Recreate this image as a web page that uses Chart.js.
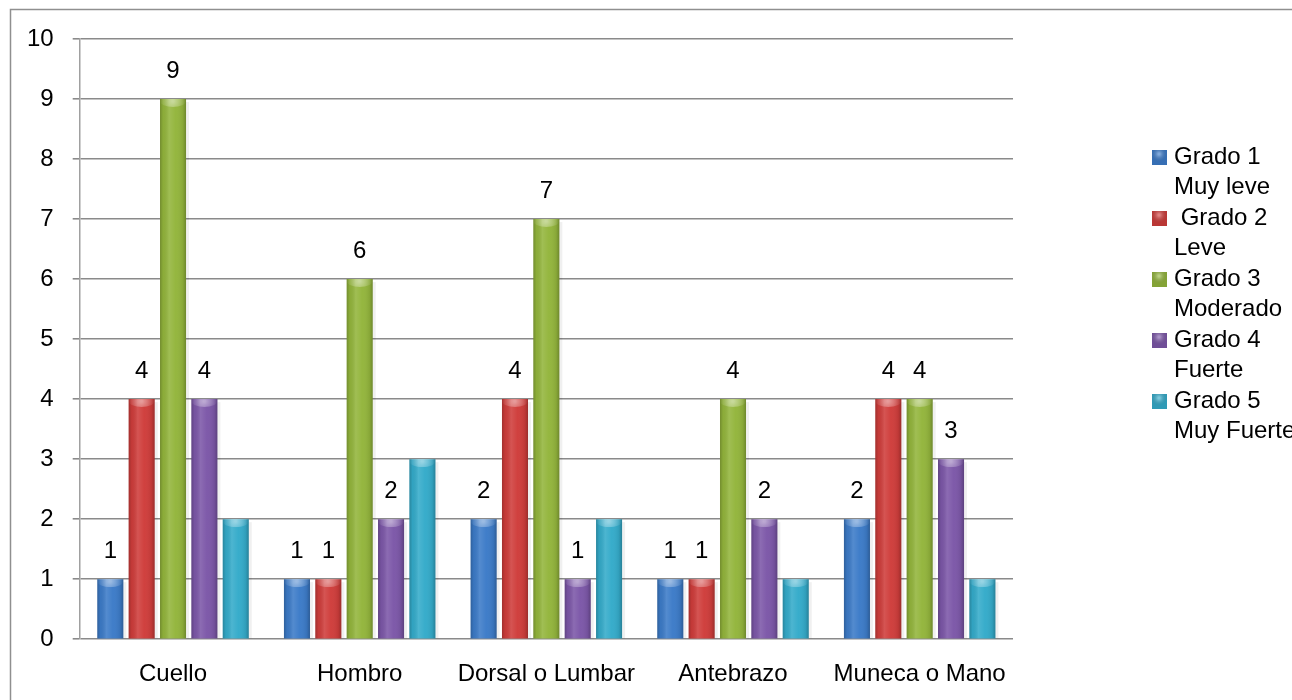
<!DOCTYPE html>
<html>
<head>
<meta charset="utf-8">
<script src="https://cdn.jsdelivr.net/npm/chart.js@4/dist/chart.umd.min.js"></script>
<style>
  html, body { margin: 0; padding: 0; background: #fff; }
  #wrap { width: 1292px; height: 700px; position: relative; }
</style>
</head>
<body>
<div id="wrap"><canvas id="c" width="1292" height="700"></canvas></div>
<script>
const categories = ['Cuello', 'Hombro', 'Dorsal o Lumbar', 'Antebrazo', 'Muneca o Mano'];
const grado1 = [1, 1, 2, 1, 2];
const grado2 = [4, 1, 4, 1, 4];
const grado3 = [9, 6, 7, 4, 4];
const grado4 = [4, 2, 1, 2, 3];
const grado5 = [2, 3, 2, 1, 1];
const seriesNames = ['Grado 1', 'Grado 2', 'Grado 3', 'Grado 4', 'Grado 5'];
const legendLines = [['Grado 1', 'Muy leve'], [' Grado 2', 'Leve'], ['Grado 3', 'Moderado'], ['Grado 4', 'Fuerte'], ['Grado 5', 'Muy Fuerte']];
const labeledSeries = [true, true, true, true, false];
const yMin = 0, yMax = 10, yStep = 1;

const colors = ['#3c7bc8', '#cf3d3b', '#93b53c', '#7c57a8', '#34abca'];
const FONT = '"Liberation Sans", Arial, sans-serif';

const borderPlugin = {
  id: 'outerBorder',
  beforeDraw(chart) {
    const ctx = chart.ctx;
    ctx.save();
    ctx.strokeStyle = '#8f8f8f';
    ctx.lineWidth = 1.5;
    ctx.strokeRect(10.5, 9.5, 1400, 800);
    ctx.restore();
  }
};

const shadePlugin = {
  id: 'shade',
  afterDatasetsDraw(chart) {
    const ctx = chart.ctx;
    chart.data.datasets.forEach((ds, i) => {
      const meta = chart.getDatasetMeta(i);
      meta.data.forEach(bar => {
        const w = bar.width, left = bar.x - w / 2, top = bar.y, bottom = bar.base;
        const g = ctx.createLinearGradient(left, 0, left + w, 0);
        g.addColorStop(0, 'rgba(0,0,0,0.22)');
        g.addColorStop(0.12, 'rgba(0,0,0,0.05)');
        g.addColorStop(0.35, 'rgba(255,255,255,0.12)');
        g.addColorStop(0.6, 'rgba(255,255,255,0.02)');
        g.addColorStop(0.88, 'rgba(0,0,0,0.08)');
        g.addColorStop(1, 'rgba(0,0,0,0.25)');
        ctx.save();
        ctx.fillStyle = 'rgba(0,0,0,0.06)';
        ctx.fillRect(left + w, top + 3, 3, bottom - top - 3);
        ctx.fillStyle = g;
        ctx.fillRect(left, top, w, bottom - top);
        const cg = ctx.createRadialGradient(bar.x, top + 2, 1, bar.x, top + 2, w / 2);
        cg.addColorStop(0, 'rgba(255,255,255,0.45)');
        cg.addColorStop(1, 'rgba(255,255,255,0)');
        ctx.fillStyle = cg;
        ctx.beginPath();
        ctx.ellipse(bar.x, top + 2, w / 2, 6, 0, 0, Math.PI * 2);
        ctx.save();
        ctx.clip();
        ctx.fillRect(left, top, w, 8);
        ctx.restore();
        ctx.restore();
      });
    });
  }
};

const valueLabelPlugin = {
  id: 'valueLabels',
  afterDatasetsDraw(chart) {
    const ctx = chart.ctx;
    ctx.save();
    ctx.font = '24px ' + FONT;
    ctx.fillStyle = '#000';
    ctx.textAlign = 'center';
    ctx.textBaseline = 'alphabetic';
    chart.data.datasets.forEach((ds, i) => {
      if (!labeledSeries[i]) return;
      const meta = chart.getDatasetMeta(i);
      meta.data.forEach((bar, j) => {
        ctx.fillText(String(ds.data[j]), bar.x, bar.y - 21);
      });
    });
    ctx.restore();
  }
};

const legendPlugin = {
  id: 'customLegend',
  afterDraw(chart) {
    const ctx = chart.ctx;
    ctx.save();
    ctx.font = '24px ' + FONT;
    ctx.textBaseline = 'middle';
    ctx.textAlign = 'left';
    const x0 = 1152, tx = 1174, y0 = 157, lh = 30.5;
    chart.data.datasets.forEach((ds, i) => {
      const lines = legendLines[i];
      const yA = y0 + lh * 2 * i;
      ctx.fillStyle = ds.backgroundColor;
      ctx.fillRect(x0, yA - 7, 15, 15);
      const rg = ctx.createRadialGradient(x0 + 7, yA - 3, 1, x0 + 7, yA - 3, 8);
      rg.addColorStop(0, 'rgba(255,255,255,0.35)');
      rg.addColorStop(1, 'rgba(0,0,0,0.1)');
      ctx.fillStyle = rg;
      ctx.fillRect(x0, yA - 7, 15, 15);
      ctx.fillStyle = '#000';
      ctx.fillText(lines[0], tx, yA);
      ctx.fillText(lines[1], tx, yA + lh);
    });
    ctx.restore();
  }
};

const seriesData = [grado1, grado2, grado3, grado4, grado5];

new Chart(document.getElementById('c'), {
  type: 'bar',
  data: {
    labels: categories,
    datasets: seriesData.map((d, i) => ({
      label: seriesNames[i],
      data: d,
      backgroundColor: colors[i],
      borderWidth: 0,
      categoryPercentage: 0.84,
      barPercentage: 0.83
    }))
  },
  options: {
    responsive: false,
    animation: false,
    layout: { padding: { left: 8, right: 279, top: 39, bottom: -10 } },
    plugins: {
      legend: { display: false },
      tooltip: { enabled: false },
      title: { display: false }
    },
    scales: {
      x: {
        grid: { display: false, drawTicks: false },
        border: { display: false },
        ticks: { color: '#000', font: { family: FONT, size: 24 }, padding: 21, maxRotation: 0, autoSkip: false }
      },
      y: {
        min: yMin,
        max: yMax,
        grid: { color: '#8a8a8a', lineWidth: 1.6, tickLength: 7, drawTicks: true },
        border: { display: true, color: '#a0a0a0', width: 1.5 },
        ticks: { stepSize: yStep, color: '#000', font: { family: FONT, size: 24 }, padding: 19 }
      }
    }
  },
  plugins: [borderPlugin, shadePlugin, valueLabelPlugin, legendPlugin]
});
</script>
</body>
</html>
